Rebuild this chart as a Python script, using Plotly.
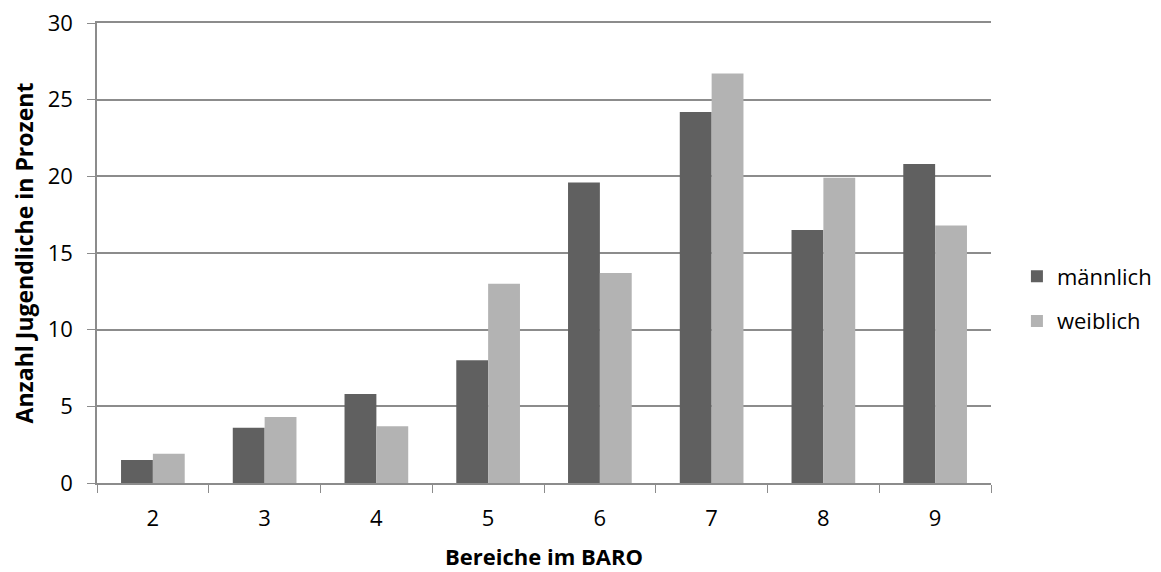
import plotly.graph_objects as go

bereiche = ["2", "3", "4", "5", "6", "7", "8", "9"]
maennlich = [1.5, 3.6, 5.8, 8.0, 19.6, 24.2, 16.5, 20.8]
weiblich = [1.9, 4.3, 3.7, 13.0, 13.7, 26.7, 19.9, 16.8]

font_name = "Open Sans"
grid_col = "#8c8c8c"

fig = go.Figure()
fig.add_trace(go.Bar(x=bereiche, y=maennlich, name="männlich",
                     marker=dict(color="#606060", line=dict(width=0)),
                     legendgroup="m"))
fig.add_trace(go.Bar(x=bereiche, y=weiblich, name="weiblich",
                     marker=dict(color="#b3b3b3", line=dict(width=0)),
                     legendgroup="w"))

# the page body adds ~8px offset, margins compensate for it
fig.update_layout(
    width=1161, height=572,
    margin=dict(l=89, r=178, t=15, b=97),
    paper_bgcolor="white", plot_bgcolor="white",
    barmode="group", bargap=0.43, bargroupgap=0,
    font=dict(family=font_name, color="black", size=22),
    legend=dict(x=1.029, y=0.4, xanchor="left", yanchor="middle",
                font=dict(size=22), traceorder="grouped", tracegroupgap=13),
)

# mirror gives the top gridline at 30
fig.update_xaxes(
    type="category", tickson="boundaries", ticks="outside", ticklen=8,
    tickcolor=grid_col, showline=True, mirror=True, linecolor=grid_col, linewidth=1.6,
    tickfont=dict(size=22), showgrid=False, automargin=False,
    ticklabelstandoff=15, ticklabeloverflow="allow",
    title=dict(text="<b>Bereiche im BARO</b>", font=dict(size=22), standoff=18),
)
fig.update_yaxes(
    range=[0, 30], dtick=5, ticks="outside", ticklen=8, tickcolor=grid_col,
    showline=True, linecolor=grid_col, linewidth=1.6,
    showgrid=True, gridcolor=grid_col, gridwidth=1.6, zeroline=False,
    tickfont=dict(size=22), automargin=False, ticklabelstandoff=10,
    ticklabeloverflow="allow",
    title=dict(text="<b>Anzahl Jugendliche in Prozent</b>", font=dict(size=23), standoff=17),
)

fig.write_html("out.html")
